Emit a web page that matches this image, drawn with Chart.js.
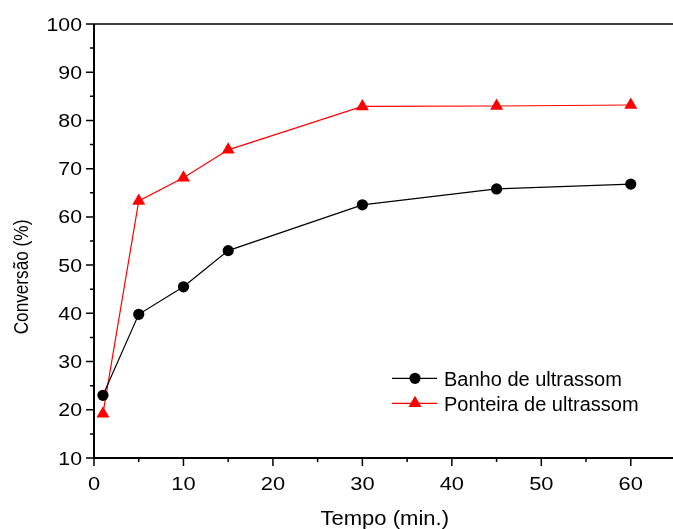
<!DOCTYPE html>
<html>
<head>
<meta charset="utf-8">
<script src="https://cdn.jsdelivr.net/npm/chart.js@4"></script>
<style>
  html, body { margin: 0; padding: 0; background: #fff; overflow: hidden; }
  #box { width: 673px; height: 529px; overflow: hidden; }
</style>
</head>
<body>
<div id="box"><canvas id="grafico" width="683" height="529"></canvas></div>
<script>
// ===== DADOS =====
const tempo = [1, 5, 10, 15, 30, 45, 60];
const banho = [23.0, 39.8, 45.5, 53.0, 62.5, 65.8, 66.8];
const ponteira = [19.2, 63.3, 68.1, 73.9, 82.9, 83.0, 83.2];
const ticksX = [0, 10, 20, 30, 40, 50, 60];
const ticksY = [10, 20, 30, 40, 50, 60, 70, 80, 90, 100];
const series = ["Banho de ultrassom", "Ponteira de ultrassom"];
const cores = ["#000000", "#ff0000"];
const simbolos = ["circle", "triangle"];
const raios = [5.6, 7.5];

const FONTE = '"Liberation Sans", Arial, sans-serif';

// texto com largura esticada (fonte do Origin e mais larga)
function textoLargo(ctx, txt, x, y, sx, align) {
  ctx.save();
  ctx.translate(x, y);
  ctx.scale(sx, 1);
  ctx.textAlign = align;
  ctx.fillText(txt, 0, 0);
  ctx.restore();
}

function marcador(ctx, tipo, r, x, y) {
  ctx.beginPath();
  if (tipo === "circle") {
    ctx.arc(x, y, r, 0, Math.PI * 2);
  } else {
    const a = Math.PI * 2 / 3;
    ctx.moveTo(x, y - r);
    ctx.lineTo(x + Math.sin(a) * r, y + r / 2);
    ctx.lineTo(x - Math.sin(a) * r, y + r / 2);
    ctx.closePath();
  }
  ctx.fill();
}

// ===== EIXOS, TICKS, TITULOS E LEGENDA =====
const eixos = {
  id: "eixos",
  beforeDatasetsDraw(chart) {
    const { ctx, chartArea: a, scales: { x, y } } = chart;
    ctx.save();
    ctx.strokeStyle = "#000";
    ctx.lineWidth = 1.5;
    ctx.beginPath();
    ctx.moveTo(a.left, a.top);
    ctx.lineTo(a.right, a.top);
    ctx.stroke();

    ctx.lineWidth = 2;
    ctx.beginPath();
    ctx.moveTo(a.left, a.top);
    ctx.lineTo(a.left, a.bottom);
    ctx.lineTo(a.right, a.bottom);
    ctx.stroke();

    ctx.lineWidth = 1.5;
    ctx.beginPath();
    x.ticks.forEach(t => {
      const px = x.getPixelForValue(t.value);
      const len = t.value % 10 === 0 ? 8 : 4;
      ctx.moveTo(px, a.bottom);
      ctx.lineTo(px, a.bottom + len);
    });
    y.ticks.forEach(t => {
      const py = y.getPixelForValue(t.value);
      const len = t.value % 10 === 0 ? 8 : 4;
      ctx.moveTo(a.left, py);
      ctx.lineTo(a.left - len, py);
    });
    ctx.stroke();
    ctx.restore();
  },
  afterDraw(chart) {
    const { ctx, chartArea: a, scales: { x, y } } = chart;
    ctx.save();
    ctx.fillStyle = "#000";
    ctx.textBaseline = "alphabetic";

    // rotulos dos ticks
    ctx.font = "19px " + FONTE;
    ticksX.forEach(v => {
      textoLargo(ctx, String(v), x.getPixelForValue(v), a.bottom + 32, 1.15, "center");
    });
    ticksY.forEach(v => {
      textoLargo(ctx, String(v), a.left - 12, y.getPixelForValue(v) + 6.5, 1.12, "right");
    });

    // titulos
    ctx.font = "19.5px " + FONTE;
    textoLargo(ctx, "Tempo (min.)", (a.left + a.right) / 2, 524.7, 1.13, "center");

    ctx.save();
    ctx.translate(22, 277);
    ctx.rotate(-Math.PI / 2);
    ctx.scale(0.86, 1);
    ctx.textAlign = "center";
    ctx.textBaseline = "middle";
    ctx.font = "20px " + FONTE;
    ctx.fillText("Conversão (%)", 0, 0);
    ctx.restore();

    // legenda
    ctx.font = "20px " + FONTE;
    ctx.textAlign = "left";
    const linhas = [378.3, 403.3];
    series.forEach((nome, i) => {
      const ly = linhas[i];
      ctx.strokeStyle = cores[i];
      ctx.fillStyle = cores[i];
      ctx.lineWidth = 1.2;
      ctx.beginPath();
      ctx.moveTo(392, ly);
      ctx.lineTo(437, ly);
      ctx.stroke();
      marcador(ctx, simbolos[i], raios[i], 415, ly);
      ctx.fillStyle = "#000";
      ctx.fillText(nome, 444, ly + 7.5);
    });
    ctx.restore();
  }
};

// ===== GRAFICO =====
new Chart(document.getElementById("grafico"), {
  type: "line",
  data: {
    datasets: series.map((nome, i) => ({
      label: nome,
      data: tempo.map((t, j) => ({ x: t, y: (i === 0 ? banho : ponteira)[j] })),
      borderColor: cores[i],
      backgroundColor: cores[i],
      borderWidth: 1.2,
      pointStyle: simbolos[i],
      pointRadius: raios[i],
      pointBorderWidth: 0,
      pointBackgroundColor: cores[i],
      tension: 0
    }))
  },
  options: {
    responsive: false,
    animation: false,
    events: [],
    layout: { padding: { left: 0, top: 24, right: 1, bottom: 0 } },
    plugins: { legend: { display: false }, tooltip: { enabled: false } },
    scales: {
      x: {
        type: "linear", min: 0, max: 65,
        ticks: { stepSize: 5, display: false },
        grid: { display: false },
        border: { display: false },
        afterFit(s) { s.height = 71; }
      },
      y: {
        type: "linear", min: 10, max: 100,
        ticks: { stepSize: 5, display: false },
        grid: { display: false },
        border: { display: false },
        afterFit(s) { s.width = 94; }
      }
    }
  },
  plugins: [eixos]
});
</script>
</body>
</html>
